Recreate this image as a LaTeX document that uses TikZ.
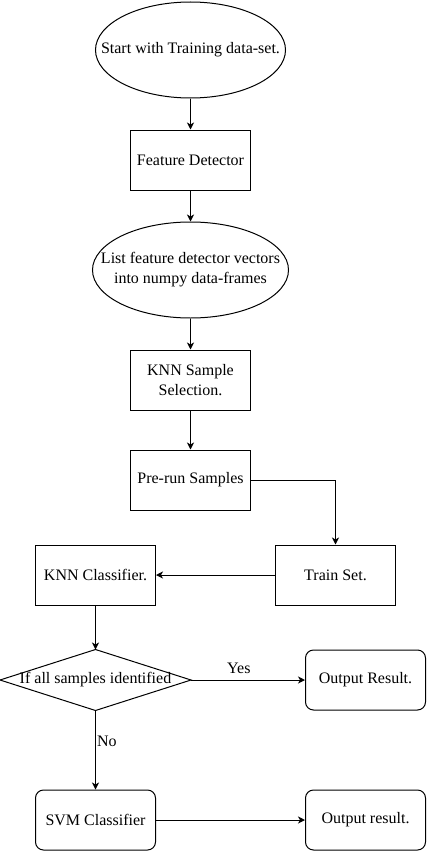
\documentclass[tikz,border=0pt]{standalone}
\usepackage{fontspec}
\setmainfont{Liberation Serif}
\usepackage{tikz}
\usetikzlibrary{arrows.meta}
\usetikzlibrary{positioning}

\begin{document}
\begin{tikzpicture}[
x=1pt, y=-1pt,
line width=1pt,
MyBox/.style={draw, minimum width=120pt, minimum height=60pt, inner sep=2pt, align=center},
MyRound/.style={MyBox, rounded corners=8pt},
MyOval/.style={minimum width=190pt, minimum height=96pt, inner sep=0pt, align=center},
MyDecision/.style={minimum width=190pt, minimum height=60pt, inner sep=0pt},
Flow/.style={-{Stealth[length=7pt, width=7pt, inset=2pt]}},
every node/.style={font=\fontsize{16}{20}\selectfont}
]
\useasboundingbox (0,0) rectangle (426,851);

% main column
\node[MyOval] (start) at (190.5,50) {Start with Training data-set.};
\draw (start.center) ellipse [x radius=95pt, y radius=48pt];

\node[MyBox] (feature) at (190.5,160) {Feature Detector};

\node[MyOval] (frames) at (190.5,270) {List feature detector vectors\\into numpy data-frames};
\draw (frames.center) ellipse [x radius=98pt, y radius=48pt];

\node[MyBox] (knnsel) at (190.5,380) {KNN Sample\\Selection.};
\node[MyBox] (prerun) at (190.5,480) {Pre-run Samples};

% classifiers
\node[MyBox] (train) at (335.5,575) {Train Set.};
\node[MyBox] (knncls) at (95.5,575) {KNN Classifier.};

\node[MyDecision] (check) at (95.5,680) {If all samples identified};
\draw (check.west) -- (check.north) -- (check.east) -- (check.south) -- cycle;

\node[MyRound] (outyes) at (365.5,680) {Output Result.};
\node[MyRound] (svm) at (95.5,820) {SVM Classifier};
\node[MyRound] (outno) at (365.5,820) {Output result.};

% connectors
\draw[Flow] (start) -- (feature);
\draw[Flow] (feature) -- (frames);
\draw[Flow] (frames) -- (knnsel);
\draw[Flow] (knnsel) -- (prerun);
\draw[Flow] (prerun) -| (train);
\draw[Flow] (train) -- (knncls);
\draw[Flow] (knncls) -- (check);
\draw[Flow] (check) -- node[pos=0.42, above=3pt] {Yes} (outyes);
\draw[Flow] (check) -- node[pos=0.39, anchor=west, inner sep=1pt] {No} (svm);
\draw[Flow] (svm) -- (outno);

\end{tikzpicture}
\end{document}
